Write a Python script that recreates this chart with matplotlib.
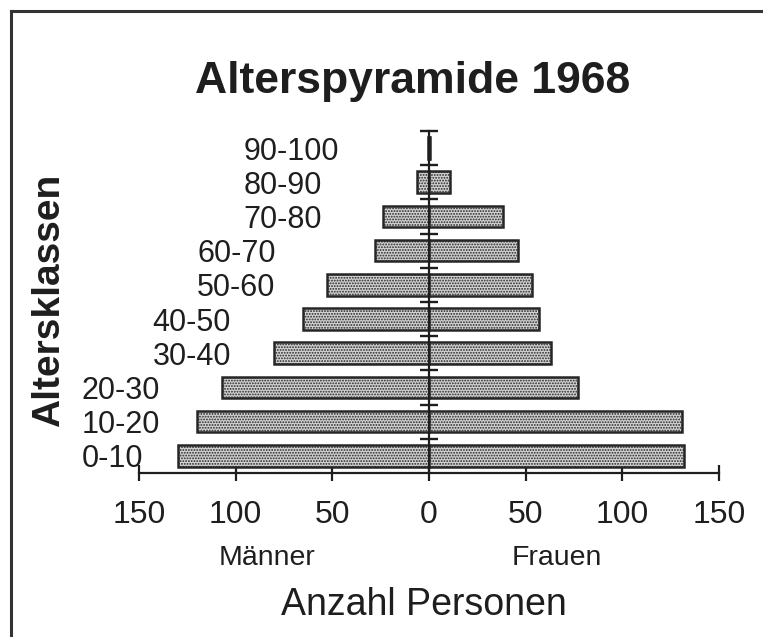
import matplotlib
matplotlib.use('Agg')
import matplotlib.pyplot as plt
from matplotlib.lines import Line2D
from matplotlib.ticker import FixedLocator, FuncFormatter

# age classes, bottom to top
age_classes = ['0-10', '10-20', '20-30', '30-40', '40-50',
               '50-60', '60-70', '70-80', '80-90', '90-100']
men = [130, 120, 107, 80, 65, 53, 28, 24, 6, 0.5]
women = [132, 131, 77, 63, 57, 53, 46, 38, 11, 0.5]
# left edge of each class label (x in persons), labels sit stepped like a pyramid
label_x = [-179.5, -179.5, -179.5, -143, -143, -120, -120, -96, -96, -96]

x_ticks = [-100, -50, 0, 50, 100]
x_ends = [-150, 150]

ink = '#1e1e1e'
plt.rcParams['font.family'] = ['Liberation Sans', 'DejaVu Sans']
plt.rcParams['hatch.linewidth'] = 0.9

fig = plt.figure(figsize=(7.63, 6.37), dpi=100)
ax = fig.add_axes([0.1822, 0.2575, 0.7602, 0.5369])

rows = range(len(age_classes))
bar_kw = dict(height=0.63, color='#d2d2d2', edgecolor='#262626',
              linewidth=1.8, hatch='......', zorder=2)
ax.barh(rows, [-m for m in men], **bar_kw)
ax.barh(rows, women, **bar_kw)

ax.set_xlim(-150, 150)
ax.set_ylim(-0.5, 9.5)

for s in ('top', 'right'):
    ax.spines[s].set_visible(False)
ax.spines['left'].set_position(('data', 0))
ax.spines['left'].set_zorder(3)
for s in ('left', 'bottom'):
    ax.spines[s].set_linewidth(1.6)
    ax.spines[s].set_color(ink)

# center axis: small cross ticks between the classes
ax.yaxis.set_major_locator(FixedLocator([r + 0.5 for r in rows]))
ax.tick_params(axis='y', direction='inout', length=13, width=1.7,
               color=ink, labelleft=False)

ax.xaxis.set_major_locator(FixedLocator(x_ticks))
ax.xaxis.set_minor_locator(FixedLocator(x_ends))
fmt = FuncFormatter(lambda v, p: f'{abs(v):.0f}')
ax.xaxis.set_major_formatter(fmt)
ax.xaxis.set_minor_formatter(fmt)
ax.tick_params(axis='x', which='both', direction='inout', length=11,
               width=1.6, color=ink, pad=14, labelsize=23, labelcolor=ink)

for r, (lab, lx) in enumerate(zip(age_classes, label_x)):
    ax.text(lx, r, lab, ha='left', va='center_baseline', fontsize=22,
            color=ink)

ax.annotate('Männer', xy=(-84, 0.113), xycoords=('data', 'figure fraction'),
            ha='center', va='baseline', fontsize=20.5, color=ink)
ax.annotate('Frauen', xy=(66, 0.113), xycoords=('data', 'figure fraction'),
            ha='center', va='baseline', fontsize=20.5, color=ink)
fig.text(0.556, 0.0345, 'Anzahl Personen', ha='center', va='baseline',
         fontsize=27, color=ink)
fig.text(0.541, 0.854, 'Alterspyramide 1968', ha='center', va='baseline',
         fontsize=32, fontweight='bold', color=ink)
fig.text(0.064, 0.529, 'Altersklassen', ha='center', va='center',
         rotation=90, fontsize=28, fontweight='bold', color=ink)

# frame of the scanned figure (only left and top edges visible)
fig.add_artist(Line2D([11 / 763, 11 / 763], [0, 1 - 11 / 637],
                      color='#333333', linewidth=2.2))
fig.add_artist(Line2D([11 / 763, 1], [1 - 11 / 637, 1 - 11 / 637],
                      color='#333333', linewidth=2.2))

fig.savefig('out.png', dpi=100)
